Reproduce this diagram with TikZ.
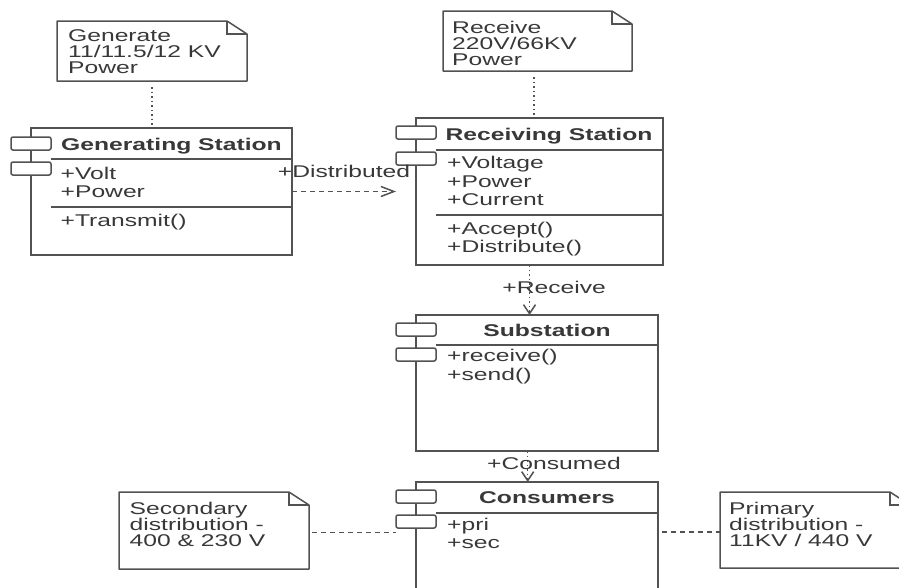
\documentclass[tikz,border=0pt]{standalone}
\usepackage{fontspec}
\setmainfont[FakeStretch=1.45]{Liberation Sans}
\usetikzlibrary{arrows.meta}
\definecolor{umlline}{gray}{0.32}
\definecolor{umltext}{gray}{0.22}

\begin{document}
\begin{tikzpicture}[x=1pt, y=-1pt,
    every node/.style={text=umltext, font=\fontsize{17}{18.5}\selectfont},
    classbox/.style={draw=umlline, line width=1.5pt, inner sep=0pt, outer sep=0pt, anchor=north west},
    iconbox/.style={draw=umlline, fill=white, line width=1.5pt, rounded corners=2pt,
      minimum width=40pt, minimum height=13pt, inner sep=0pt, outer sep=0pt, anchor=north west},
    classname/.style={font=\fontsize{17}{18.5}\selectfont\bfseries, anchor=base, inner sep=0pt},
    members/.style={align=left, anchor=north west, inner sep=0pt},
    notebox/.style={inner sep=0pt, outer sep=0pt, anchor=north west, minimum width=190pt},
    notetext/.style={align=left, anchor=north west, inner sep=0pt, font=\fontsize{17}{16.2}\selectfont},
    umlstroke/.style={draw=umlline, line width=1.5pt},
    notelink/.style={umlstroke, dash pattern=on 1.5pt off 3pt},
    noteline/.style={umlstroke, dash pattern=on 5pt off 4pt},
    depend/.style={umlstroke, dash pattern=on 5pt off 4pt, -{Straight Barb[length=13pt, width=10pt]}},
    flow/.style={umlstroke, dash pattern=on 1.5pt off 3pt, -{Straight Barb[length=9pt, width=12pt]}},
  ]
  \path[use as bounding box] (0,0) rectangle (899,587);
  \clip (0,0) rectangle (899,587);

  % generating station
  \node[classbox, minimum width=261pt, minimum height=127pt] (gen) at (31,128) {};
  \node[iconbox] (geni1) at ([xshift=-20pt, yshift=-9pt]gen.north west) {};
  \node[iconbox] (geni2) at ([xshift=-20pt, yshift=-34pt]gen.north west) {};
  \draw[umlstroke] (geni1.east |- 0,159) -- (gen.east |- 0,159);
  \draw[umlstroke] (geni1.east |- 0,207) -- (gen.east |- 0,207);
  \node[classname] (gent) at (171.5,150.5) {Generating Station};
  \node[members] (gena) at (60.5,166) {\strut+Volt\\+Power};
  \node[members] (geno) at (60.5,213) {\strut+Transmit()};

  % receiving station
  \node[classbox, minimum width=247pt, minimum height=147pt] (rec) at (416,118) {};
  \node[iconbox] (reci1) at ([xshift=-20pt, yshift=-8pt]rec.north west) {};
  \node[iconbox] (reci2) at ([xshift=-20pt, yshift=-34pt]rec.north west) {};
  \draw[umlstroke] (reci1.east |- 0,150) -- (rec.east |- 0,150);
  \draw[umlstroke] (reci1.east |- 0,215) -- (rec.east |- 0,215);
  \node[classname] (rect) at (549,140.5) {Receiving Station};
  \node[members] (reca) at (447,155.5) {\strut+Voltage\\+Power\\+Current};
  \node[members] (reco) at (447,221) {\strut+Accept()\\+Distribute()};

  % substation
  \node[classbox, minimum width=242pt, minimum height=136pt] (sub) at (416,315) {};
  \node[iconbox] (subi1) at ([xshift=-20pt, yshift=-8pt]sub.north west) {};
  \node[iconbox] (subi2) at ([xshift=-20pt, yshift=-33pt]sub.north west) {};
  \draw[umlstroke] (subi1.east |- 0,345) -- (sub.east |- 0,345);
  \node[classname] (subt) at (547,336.5) {Substation};
  \node[members] (subo) at (447,348.5) {\strut+receive()\\+send()};

  % consumers
  \node[classbox, minimum width=242pt, minimum height=140pt] (con) at (416,482) {};
  \node[iconbox] (coni1) at ([xshift=-20pt, yshift=-8pt]con.north west) {};
  \node[iconbox] (coni2) at ([xshift=-20pt, yshift=-33pt]con.north west) {};
  \draw[umlstroke] (coni1.east |- 0,513) -- (con.east |- 0,513);
  \node[classname] (cont) at (547,503) {Consumers};
  \node[members] (cona) at (447,517) {\strut+pri\\+sec};

  % notes
  \node[notebox, minimum height=60pt] (ngen) at (57,21) {};
  \node[notebox, minimum width=189pt, minimum height=60pt] (nrec) at (443,11) {};
  \node[notebox, minimum height=77pt] (nsec) at (119,492) {};
  \node[notebox, minimum height=76pt] (npri) at (720,492) {};
  \foreach \n in {ngen,nrec,nsec,npri} {
    \draw[umlstroke, line join=round] (\n.north west) -- ([xshift=-20pt]\n.north east)
      -- ([yshift=-13pt]\n.north east) -- (\n.south east) -- (\n.south west) -- cycle;
    \draw[umlstroke] ([xshift=-20pt]\n.north east) |- ([yshift=-13pt]\n.north east);
  }
  \node[notetext] (ngent) at (68,29.3) {Generate\\11/11.5/12 KV\\Power};
  \node[notetext] (nrect) at (452,21) {Receive\\220V/66KV\\Power};
  \node[notetext] (nsect) at (129.5,501.6) {Secondary\\distribution -\\400 \& 230 V};
  \node[notetext] (nprit) at (729,501.7) {Primary\\distribution -\\11KV / 440 V};

  % note links
  \draw[notelink] ([yshift=-6pt]ngen.south) -- (ngen.south |- gen.north);
  \draw[notelink] ([xshift=-3.5pt, yshift=-6pt]nrec.south) -- ([xshift=-3.5pt]nrec.south |- rec.north);
  \draw[noteline] ([xshift=3pt, yshift=-2pt]nsec.east) -- ([yshift=-2pt]nsec.east -| coni2.west);
  \draw[noteline] ([xshift=4pt, yshift=-2pt]con.east |- npri.west) -- ([yshift=-2pt]npri.west);

  % dependencies
  \draw[depend] (gen.east) -- node[above=13pt, inner sep=0pt] {+Distributed} (gen.east -| reci1.west);
  \draw[flow] ([xshift=-10pt]rec.south) --
    node[pos=0.566, anchor=base, xshift=24.7pt, inner sep=0pt] {+Receive}
    ([xshift=-10pt]rec.south |- sub.north);
  \draw[flow] ([xshift=-9.3pt]sub.south) --
    node[pos=0.59, anchor=base, xshift=26.3pt, inner sep=0pt] {+Consumed}
    ([xshift=-9.3pt]sub.south |- con.north);
\end{tikzpicture}
\end{document}
